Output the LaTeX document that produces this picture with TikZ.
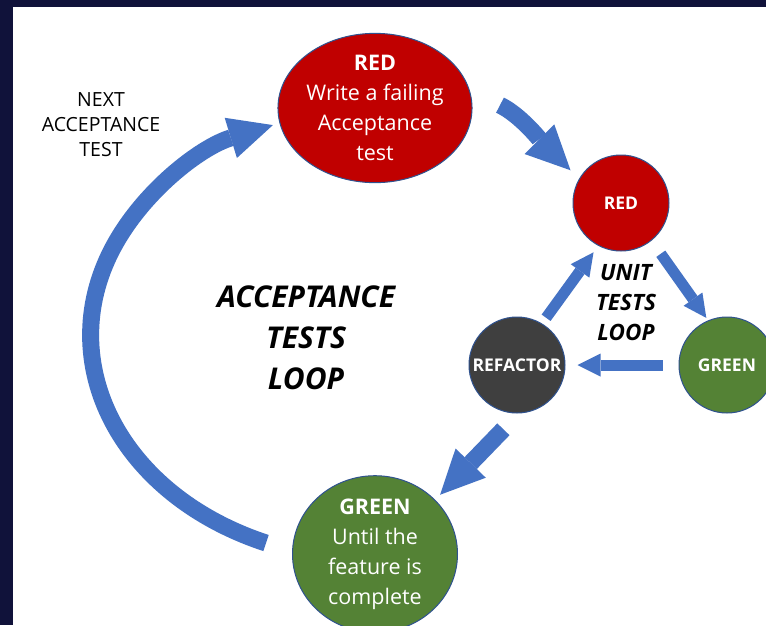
\documentclass[tikz,border=0pt]{standalone}
\usepackage{fontspec}
\setmainfont{Open Sans}
\usetikzlibrary{arrows.meta,shapes.geometric}
\definecolor{arrblue}{HTML}{4472C4}
\definecolor{redc}{HTML}{C00000}
\definecolor{greenc}{HTML}{548235}
\definecolor{greyc}{HTML}{3F3F3F}
\definecolor{edgeblue}{HTML}{2F528F}
\definecolor{navy}{HTML}{10123A}

\begin{document}
\begin{tikzpicture}[x=1pt,y=1pt,
  bigc/.style={ellipse,draw=edgeblue,line width=1pt,minimum width=165pt,minimum height=148pt,inner sep=0pt,text=white,align=center,font=\fontsize{21.5}{30}\selectfont},
  smallc/.style={circle,draw=edgeblue,line width=1pt,minimum size=96pt,inner sep=0pt,text=white,font=\bfseries\fontsize{17.5}{20}\selectfont},
  bigarr/.style={arrblue,line width=17pt,-{Triangle[length=44pt,width=42pt,line width=0pt]}},
  smallarr/.style={arrblue,line width=11pt,-{Triangle[length=23pt,width=23pt,line width=0pt]}}]
\useasboundingbox (0,0) rectangle (766,-625);
\fill[navy] (0,0) rectangle (766,-625);
\fill[white] (12.5,-6.5) rectangle (766,-625);
% acceptance loop
\path (375,-108) node[bigc,fill=redc] (rbig) {\textbf{RED}\\Write a failing\\Acceptance\\test};
\path (375,-554) node[bigc,fill=greenc] (gbig) {\textbf{GREEN}\\Until the\\feature is\\complete};
\path (101,-125) node[align=center,font=\fontsize{19.5}{25}\selectfont] (next) {NEXT\\ACCEPTANCE\\TEST};
\path (306,-338) node[align=center,font=\bfseries\itshape\fontsize{30}{41}\selectfont] (accl) {ACCEPTANCE\\TESTS\\LOOP};
% unit loop
\path (621,-203) node[smallc,fill=redc] (rsm) {RED};
\path (517,-365) node[smallc,fill=greyc] (refac) {REFACTOR};
\path (727,-365) node[smallc,fill=greenc] (gsm) {GREEN};
\path (626,-303) node[align=center,font=\bfseries\itshape\fontsize{22.5}{30}\selectfont] (unitl) {UNIT\\TESTS\\LOOP};
% arrows
\coordinate (nextS) at (266,-543);
\draw[bigarr] (nextS) arc[start angle=247.5,end angle=111,x radius=284,y radius=225];
\draw[bigarr,shorten <=33pt,shorten >=12pt] (rbig.10) to[out=-25,in=135] (rsm.150);
\draw[smallarr,shorten <=16pt,shorten >=3pt] (rsm.-51) -- (gsm.113);
\draw[smallarr,shorten <=16pt,shorten >=12pt] (gsm) -- (refac);
\draw[smallarr,shorten <=7pt,shorten >=8pt] (refac.59) -- (rsm.242);
\draw[bigarr,shorten <=22pt,shorten >=7pt] (refac.272) -- (gbig.42);
\end{tikzpicture}
\end{document}
